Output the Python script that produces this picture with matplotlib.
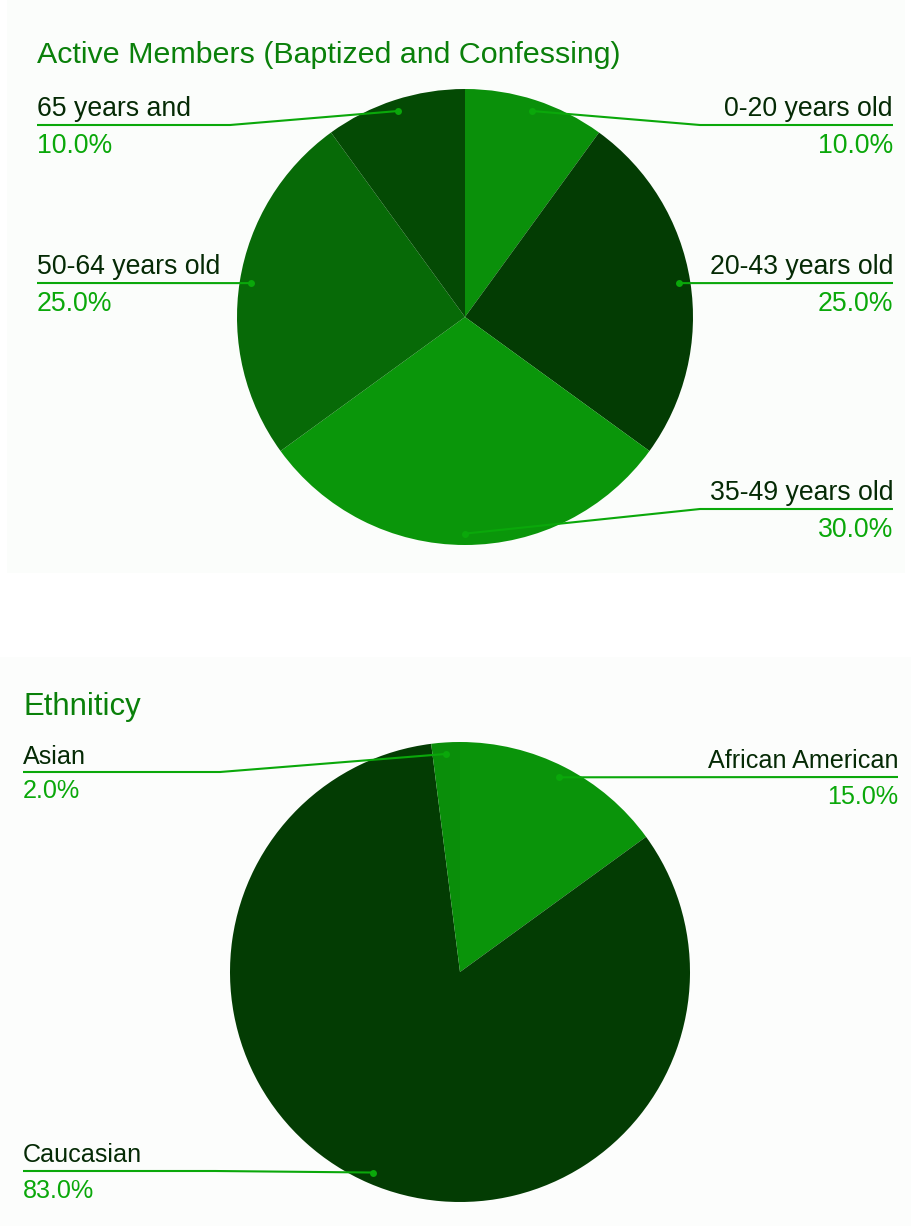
import numpy as np
import matplotlib.pyplot as plt

W, H = 911, 1226

age_labels = ['0-20 years old', '20-43 years old', '35-49 years old',
              '50-64 years old', '65 years and']
age_values = [10.0, 25.0, 30.0, 25.0, 10.0]
age_colors = ['#0a900a', '#033c03', '#0a960a', '#076a07', '#044a04']

eth_labels = ['African American', 'Caucasian', 'Asian']
eth_values = [15.0, 83.0, 2.0]
eth_colors = ['#0a940a', '#033c03', '#0a8e0a']

title_col = '#0a800a'
label_col = '#052a05'
pct_col = '#0aa80a'

plt.rcParams['font.family'] = ['Liberation Sans', 'DejaVu Sans']

fig = plt.figure(figsize=(W / 100, H / 100), dpi=100)
fig.patch.set_facecolor('#ffffff')
ax = fig.add_axes([0, 0, 1, 1])


def Y(y):
    return H - y


# panel backgrounds
ax.add_patch(plt.Rectangle((7, Y(573)), 898, 573, color='#fbfdfb', lw=0, zorder=0))
ax.add_patch(plt.Rectangle((0, 0), W, H - 657, color='#fcfdfc', lw=0, zorder=0))


def draw_pie(values, colors, labels, center, R, layout, fs, pgap):
    wedges, _ = ax.pie(values, colors=colors, startangle=90, counterclock=False,
                       center=(center[0], Y(center[1])), radius=R, frame=True,
                       wedgeprops=dict(linewidth=0))
    for w, lab, v in zip(wedges, labels, values):
        side, x_txt, uy, bend = layout[lab]
        mid = np.deg2rad((w.theta1 + w.theta2) / 2)
        dx = center[0] + 0.95 * R * np.cos(mid)
        dy = Y(center[1]) + 0.95 * R * np.sin(mid)
        if bend is None:
            xs, ys = [x_txt, dx], [Y(uy), dy]
        else:
            xs, ys = [x_txt, bend, dx], [Y(uy), Y(uy), dy]
        ax.plot(xs, ys, color=pct_col, lw=1.5, zorder=5, solid_capstyle='butt')
        ax.plot(dx, dy, 'o', color=pct_col, ms=5, mec='none', zorder=6)
        ha = 'left' if side == 'l' else 'right'
        ax.text(x_txt, Y(uy - 8.5), lab, ha=ha, va='baseline', fontsize=fs,
                color=label_col, zorder=7)
        ax.text(x_txt, Y(uy + pgap), '%.1f%%' % v, ha=ha, va='baseline', fontsize=fs,
                color=pct_col, zorder=7)


top_layout = {
    '0-20 years old': ('r', 893, 125, 700),
    '20-43 years old': ('r', 893, 283, None),
    '35-49 years old': ('r', 893, 509, 700),
    '50-64 years old': ('l', 37, 283, None),
    '65 years and': ('l', 37, 125, 230),
}
bot_layout = {
    'African American': ('r', 898, 777, None),
    'Caucasian': ('l', 23, 1171, 215),
    'Asian': ('l', 23, 772, 220),
}

draw_pie(age_values, age_colors, age_labels, (465, 317), 228, top_layout, 19.2, 28)
draw_pie(eth_values, eth_colors, eth_labels, (460, 972), 230, bot_layout, 18.1, 26.5)

ax.text(37, Y(63), 'Active Members (Baptized and Confessing)', fontsize=21.9,
        color=title_col, va='baseline', ha='left')
ax.text(23, Y(715), 'Ethniticy', fontsize=22.4, color=title_col,
        va='baseline', ha='left')

ax.set_xlim(0, W)
ax.set_ylim(0, H)
ax.set_aspect('auto')
ax.axis('off')

fig.savefig('out.png', dpi=100, facecolor=fig.get_facecolor())
